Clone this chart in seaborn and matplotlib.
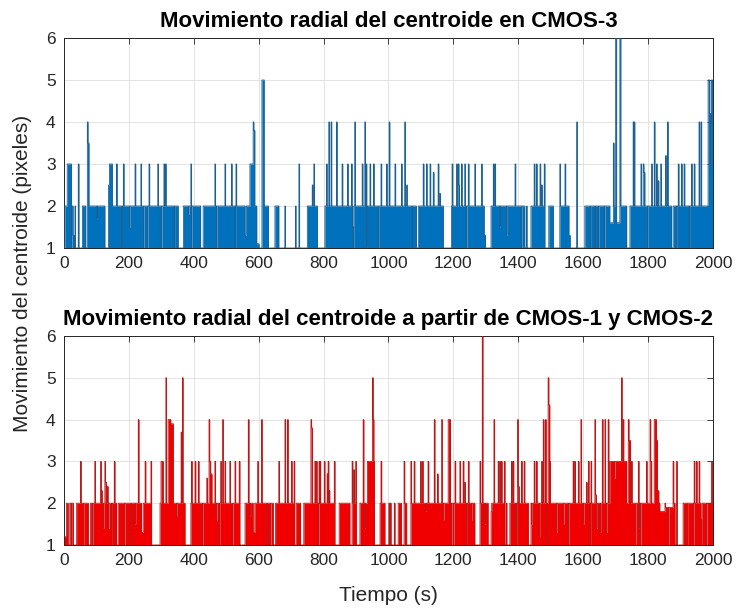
import numpy as np
import matplotlib
matplotlib.use("Agg")
import matplotlib.pyplot as plt
import seaborn as sns

# -------------------------
# Data (step changes in seconds)
# -------------------------

# CMOS-3: time where the level changes, and the level from that time on
t_cmos3 = [0, 3, 10, 23, 25, 28, 31, 34, 35, 44, 46, 57, 67, 72, 74, 77, 101, 103,
           126, 137, 140, 149, 162, 164, 183, 185, 202, 204, 219, 221, 237, 239,
           245, 247, 262, 264, 289, 291, 300, 302, 308, 310, 313, 315, 352, 368,
           383, 385, 391, 393, 421, 429, 465, 467, 496, 498, 516, 518, 530, 532,
           558, 562, 573, 583, 585, 588, 594, 601, 610, 617, 630, 650, 662, 681,
           682, 714, 715, 724, 726, 750, 765, 767, 770, 772, 781, 804, 809, 811,
           816, 818, 823, 825, 840, 842, 857, 859, 874, 876, 886, 888, 889, 891,
           896, 898, 919, 921, 927, 929, 932, 935, 943, 945, 954, 956, 977, 979,
           994, 996, 1002, 1004, 1020, 1022, 1040, 1042, 1050, 1052, 1056, 1058,
           1086, 1092, 1107, 1109, 1117, 1119, 1128, 1130, 1138, 1140, 1153, 1155,
           1158, 1160, 1169, 1194, 1196, 1198, 1210, 1212, 1215, 1217, 1219, 1225,
           1227, 1235, 1237, 1246, 1248, 1266, 1268, 1287, 1289, 1295, 1299, 1316,
           1323, 1325, 1328, 1330, 1343, 1345, 1364, 1366, 1390, 1392, 1420, 1426,
           1427, 1439, 1449, 1451, 1456, 1458, 1467, 1469, 1472, 1474, 1480, 1482,
           1494, 1508, 1528, 1530, 1544, 1546, 1556, 1560, 1580, 1582, 1605, 1621,
           1623, 1636, 1638, 1646, 1648, 1682, 1693, 1695, 1700, 1703, 1713, 1716,
           1734, 1744, 1754, 1756, 1757, 1759, 1778, 1780, 1785, 1787, 1790, 1811,
           1813, 1819, 1821, 1826, 1828, 1831, 1833, 1839, 1841, 1854, 1856, 1860,
           1862, 1872, 1877, 1893, 1895, 1903, 1905, 1911, 1913, 1934, 1936, 1942,
           1944, 1957, 1959, 1963, 1965, 1985, 1990, 1993, 1995, 1998]
v_cmos3 = [1, 2, 3, 1, 2, 1.3, 1, 2, 1, 3, 1, 2, 1, 4, 3.5, 2, 1.7, 2,
           1, 2.5, 3, 2, 3, 2, 3, 2, 1.5, 2, 3, 2, 3, 2,
           1, 2, 3, 2, 3, 2, 1, 2, 3, 2, 3, 2, 1, 2,
           1.8, 2, 3, 2, 1, 2, 3, 2, 3, 2, 3, 2, 3, 2,
           1.3, 2, 3, 4, 3.8, 2, 1.1, 1, 5, 2, 1, 2, 1, 2,
           1, 2, 1, 3, 1, 2, 2.5, 2, 3, 2, 1, 2, 3, 2,
           4, 2, 4, 2, 4, 2, 3, 2, 3, 2, 3, 2, 1.5, 2,
           4, 2, 3, 2, 4, 2, 3, 2, 3, 2, 3, 2, 3, 2,
           3, 2, 4, 2, 3, 2, 3, 2, 4, 2, 2.5, 2,
           1, 2, 3, 2, 3, 2, 3, 2, 2.8, 2, 3, 2,
           2.3, 2, 1, 2, 3, 2, 3, 2, 3, 2.5, 2, 3,
           2, 3, 2, 3, 2, 3, 2, 3, 2, 1.3, 1, 2,
           3, 2, 3, 2, 1.5, 2, 1.3, 2, 3, 2, 1, 2,
           1, 2, 3, 2, 3, 2, 3, 2, 2.5, 2, 3, 1,
           2, 1, 3, 2, 3, 2, 1.3, 1, 4, 1, 2, 1,
           2, 1, 2, 1, 2, 1.6, 3.5, 2, 6, 1.6, 6, 2,
           1, 2, 4, 2, 4, 2, 3, 2, 3, 2.8, 2, 3,
           2, 4, 2, 3, 2, 2.6, 2, 3, 2, 3.2, 2, 4,
           2, 1, 2, 3, 2, 3, 2, 3, 2, 3, 2, 3,
           2, 4, 2, 4, 2, 5, 4.2, 3, 5, 4]
# short drops back to 1 inside the filled stretches
gaps_cmos3 = [178, 257, 339, 393, 470, 527, 891, 933, 968, 1072, 1240, 1410,
              1665, 1798, 1888, 1926]

# CMOS-1 y CMOS-2
t_cmos12 = [0, 8, 13, 18, 29, 39, 51, 53, 75, 82, 95, 97, 113, 115, 116, 118, 121,
            123, 126, 128, 131, 134, 136, 137, 139, 155, 157, 162, 167, 219, 221,
            229, 231, 239, 244, 250, 252, 268, 270, 296, 299, 306, 314, 316, 321,
            329, 337, 347, 349, 361, 363, 365, 367, 373, 391, 393, 395, 404, 406,
            414, 416, 440, 442, 447, 449, 452, 456, 465, 467, 470, 472, 483, 485,
            489, 491, 496, 498, 511, 513, 527, 529, 540, 542, 558, 568, 570, 573,
            575, 583, 588, 597, 599, 609, 611, 645, 652, 662, 664, 681, 683, 689,
            691, 701, 703, 709, 711, 716, 729, 739, 761, 763, 766, 773, 775, 778,
            780, 786, 788, 789, 791, 802, 804, 811, 813, 814, 816, 817, 819, 833,
            835, 848, 881, 888, 890, 893, 895, 899, 901, 912, 922, 924, 927, 929,
            935, 951, 953, 955, 957, 974, 977, 979, 989, 1001, 1003, 1006, 1008,
            1018, 1020, 1030, 1040, 1048, 1050, 1056, 1069, 1071, 1079, 1081, 1099,
            1101, 1105, 1107, 1115, 1117, 1122, 1124, 1141, 1143, 1151, 1153, 1164,
            1166, 1169, 1171, 1184, 1191, 1194, 1196, 1205, 1207, 1220, 1222, 1230,
            1232, 1235, 1237, 1246, 1248, 1256, 1258, 1266, 1282, 1284, 1289, 1291,
            1297, 1299, 1307, 1316, 1318, 1325, 1327, 1338, 1340, 1343, 1345, 1348,
            1350, 1357, 1359, 1364, 1365, 1374, 1379, 1381, 1384, 1386, 1392, 1394,
            1398, 1400, 1403, 1410, 1412, 1418, 1420, 1431, 1439, 1441, 1443, 1449,
            1451, 1456, 1458, 1464, 1466, 1472, 1474, 1477, 1479, 1484, 1486, 1492,
            1494, 1497, 1499, 1518, 1520, 1539, 1541, 1569, 1571, 1574, 1576, 1585,
            1587, 1593, 1595, 1600, 1602, 1610, 1612, 1616, 1618, 1624, 1626, 1636,
            1638, 1641, 1644, 1652, 1654, 1659, 1661, 1667, 1669, 1672, 1674, 1677,
            1679, 1682, 1696, 1698, 1718, 1720, 1723, 1725, 1734, 1739, 1741, 1746,
            1749, 1751, 1770, 1772, 1774, 1795, 1797, 1806, 1808, 1811, 1819, 1826,
            1829, 1833, 1836, 1852, 1854, 1862, 1864, 1877, 1879, 1883, 1888, 1890,
            1908, 1942, 1944, 1949, 1951, 1957, 1959, 1963, 1965, 1967, 1995, 1998]
v_cmos12 = [1.2, 2, 1, 2, 1, 2, 3, 2, 1, 2, 3, 2, 3, 2, 2.3, 2, 1.4,
            2, 3, 2.5, 2, 2.4, 2, 1.4, 2, 3, 2, 1, 2, 1.5, 2,
            4, 2, 1.3, 2, 3, 2, 3, 1, 2, 3, 2, 5, 2, 4,
            3.9, 2, 1.7, 2, 3.7, 2, 5, 2, 1, 2, 3, 2, 3, 2,
            3, 2, 2.6, 2, 4, 3, 2.7, 2, 3, 2, 1.6, 2, 3, 2,
            4, 2, 3, 2, 3, 2, 3, 2, 3, 1, 2, 4, 2, 1.7,
            2, 1.3, 2, 3, 2, 4, 2, 1, 2, 3, 2, 4, 2, 4,
            2, 3, 2, 3, 1, 2, 1, 2, 4, 3.8, 2, 3, 2, 3,
            2, 3, 2, 3, 2, 3, 2, 2.7, 2, 3, 2, 2.3, 2, 3,
            1, 2, 1, 3, 2, 2.8, 2, 3, 1, 2, 4, 2, 1.4, 2,
            3, 5, 4, 3, 1, 2, 3, 2, 1, 2, 1, 2, 1,
            2, 1, 2, 1, 3, 2, 1, 3, 2, 3, 2, 3,
            2, 3, 2, 1.8, 2, 3, 2, 4, 2, 2.7, 2, 4,
            2, 1.6, 2, 4, 2, 1, 2, 3, 2, 3, 2, 3,
            2, 2.5, 2, 3, 2, 1.6, 2, 1, 3, 2, 6, 2,
            1.5, 2, 1, 1.8, 2, 4, 2, 3, 2, 3, 2, 3,
            2, 3, 1, 2, 1, 2, 3, 2, 3, 2, 1.4, 2,
            4, 2.4, 2, 3, 2, 3, 2, 1, 2, 1.5, 2, 3,
            2, 3, 2, 1.2, 2, 3, 2, 4, 2, 4, 2, 5,
            4.35, 3, 2, 1.3, 2, 1.5, 2, 3, 2, 3, 2, 3,
            2, 4, 2, 1.5, 2, 2.5, 2, 3, 2, 3, 2, 4,
            2.2, 1.4, 2, 1.3, 2, 4, 2, 4, 2, 1.3, 2, 4,
            2, 3, 2.6, 3, 5, 3, 4, 3, 2, 4, 3.5, 2,
            3, 2, 3, 1.4, 2, 3, 2, 4, 3, 2, 4, 3.5,
            2.3, 2, 1.8, 2, 1.9, 1, 1.9, 3, 2, 1, 3, 1,
            2, 3, 2, 3, 2, 3, 2, 1.6, 1, 2, 3, 2]
gaps_cmos12 = [22, 59, 88, 147, 186, 206, 284, 427, 478, 519, 625, 636, 784,
               1200, 1241, 1395, 1488, 1555, 1621, 1761, 1776, 1920, 1940, 1980]

titles = ["Movimiento radial del centroide en CMOS-3",
          "Movimiento radial del centroide a partir de CMOS-1 y CMOS-2"]
x_ticks = list(range(0, 2001, 200))
y_ticks = [1, 2, 3, 4, 5, 6]

# expand the step changes to one value per second
t = np.arange(0, 2001)
y3 = np.array(v_cmos3, dtype=float)[np.searchsorted(t_cmos3, t, side="right") - 1]
y12 = np.array(v_cmos12, dtype=float)[np.searchsorted(t_cmos12, t, side="right") - 1]
for g in gaps_cmos3:
    y3[g:g + 2] = 1
for g in gaps_cmos12:
    y12[g:g + 2] = 1

# -------------------------
# Plot
# -------------------------

sns.set_theme(style="white")
plt.rcParams["font.family"] = ["Liberation Sans", "DejaVu Sans"]

fig = plt.figure(figsize=(7.38, 6.14), dpi=100)
ax1 = fig.add_axes([0.0867, 0.5961, 0.8794, 0.3420])
ax2 = fig.add_axes([0.0867, 0.1124, 0.8794, 0.3404])

series = [(ax1, y3, "#0072BD", "#1d5f90"), (ax2, y12, "#F00000", "#b81818")]

for (ax, y, fill, edge), title in zip(series, titles):
    ax.fill_between(t, 1, y, step="post", color=fill, linewidth=0, zorder=2)
    sns.lineplot(x=t, y=y, ax=ax, color=edge, linewidth=0.6,
                 drawstyle="steps-post", estimator=None, zorder=3)
    ax.set_xlim(0, 2000)
    ax.set_ylim(1, 6)
    ax.set_xticks(x_ticks)
    ax.set_yticks(y_ticks)
    ax.grid(True, color="#dedede", linewidth=0.6)
    ax.set_axisbelow(True)
    ax.tick_params(direction="in", top=True, right=True, length=4, width=0.6,
                   color="#262626", labelcolor="#262626", labelsize=12.5, pad=6)
    for s in ax.spines.values():
        s.set_color("#262626")
        s.set_linewidth(0.7)
    ax.set_title(title, fontsize=16, fontweight="bold", pad=8, color="black")
    ax.set_xlabel("")
    ax.set_ylabel("")

ax2.set_xlabel("Tiempo (s)", fontsize=15, color="#262626", labelpad=13)
fig.text(0.031, 0.554, "Movimiento del centroide (pixeles)", rotation=90,
         ha="center", va="center", fontsize=15, color="#262626")

plt.savefig("out.png", dpi=100)
